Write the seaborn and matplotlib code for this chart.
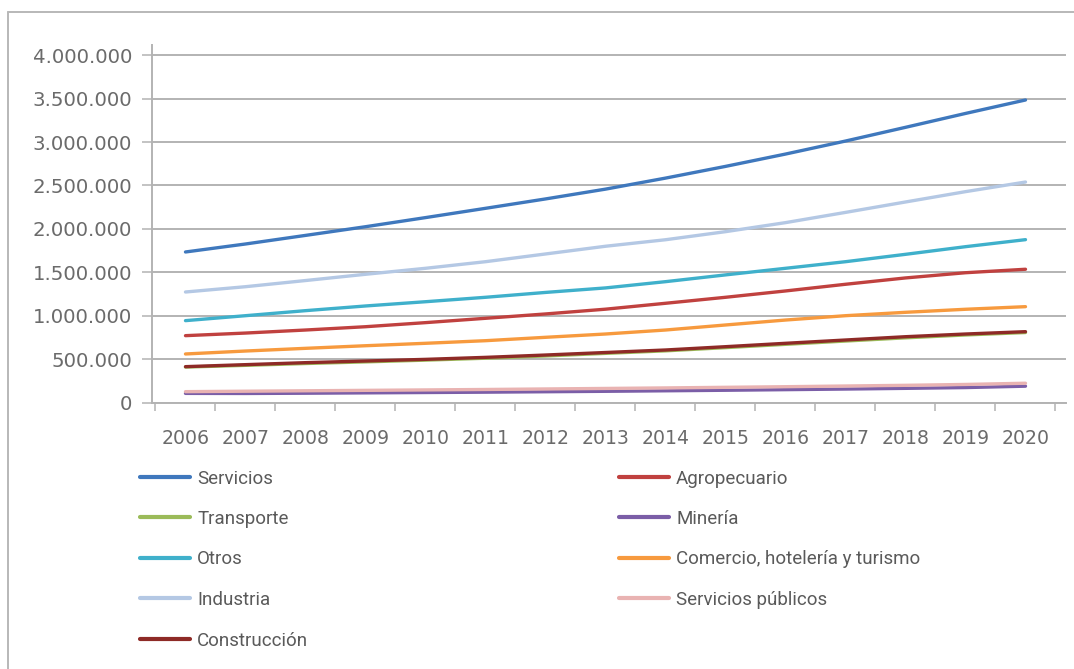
import matplotlib
matplotlib.use("Agg")
import matplotlib.pyplot as plt
from matplotlib.ticker import FuncFormatter, FixedLocator
from matplotlib.lines import Line2D
import numpy as np
import pandas as pd
import seaborn as sns

# ---- data ---------------------------------------------------------------
years = [2006, 2007, 2008, 2009, 2010, 2011, 2012, 2013,
         2014, 2015, 2016, 2017, 2018, 2019, 2020]

servicios = [1734000, 1826000, 1925000, 2025000, 2130000, 2237000, 2345000, 2458000,
             2585000, 2720000, 2862000, 3012000, 3170000, 3330000, 3485000]
agropecuario = [770000, 800000, 835000, 873000, 920000, 970000, 1020000, 1075000,
                1143000, 1212000, 1285000, 1362000, 1435000, 1495000, 1535000]
transporte = [408000, 428000, 449000, 468000, 488000, 510000, 536000, 566000,
              595000, 632000, 670000, 708000, 745000, 778000, 806000]
mineria = [105000, 104000, 107000, 111000, 115000, 119000, 124000, 129000,
           135000, 141000, 148000, 155000, 163000, 172000, 188000]
otros = [943000, 1000000, 1058000, 1112000, 1161000, 1212000, 1268000, 1320000,
         1392000, 1470000, 1546000, 1622000, 1707000, 1795000, 1876000]
comercio = [559000, 593000, 624000, 654000, 682000, 712000, 751000, 789000,
            835000, 893000, 950000, 1000000, 1039000, 1074000, 1104000]
industria = [1273000, 1334000, 1405000, 1477000, 1546000, 1622000, 1711000, 1800000,
             1875000, 1968000, 2072000, 2190000, 2310000, 2429000, 2540000]
servicios_publicos = [125000, 130000, 135000, 140000, 145000, 150000, 156000, 162000,
                      168000, 175000, 182000, 190000, 198000, 208000, 222000]
construccion = [413000, 436000, 459000, 478000, 497000, 520000, 547000, 576000,
                605000, 643000, 682000, 720000, 758000, 789000, 816000]

series_names = ["Servicios", "Agropecuario", "Transporte", "Minería", "Otros",
                "Comercio, hotelería y turismo", "Industria", "Servicios públicos",
                "Construcción"]
series_values = [servicios, agropecuario, transporte, mineria, otros,
                 comercio, industria, servicios_publicos, construccion]
series_colors = ["#3f78bd", "#c0413f", "#9bbb59", "#7b5ea7", "#3fb0cb",
                 "#f79a3e", "#b4c8e4", "#e9b3b2", "#8e2a26"]

y_ticks = [0, 500000, 1000000, 1500000, 2000000, 2500000, 3000000, 3500000, 4000000]

# ---- long table for seaborn --------------------------------------------
rows = []
for name, vals in zip(series_names, series_values):
    for i, (yr, v) in enumerate(zip(years, vals)):
        rows.append({"pos": i, "year": yr, "serie": name, "valor": v})
df = pd.DataFrame(rows)

palette = dict(zip(series_names, series_colors))

sns.set_theme(style="white")
plt.rcParams["font.family"] = ["DejaVu Sans"]

fig = plt.figure(figsize=(10.74, 6.69), dpi=100)
W, H = 1074, 669

# axes placement in pixels
left_px, right_px, top_px, bottom_px = 152, 1066, 45.3, 402.5
ax = fig.add_axes([left_px / W, 1 - bottom_px / H,
                   (right_px - left_px) / W, (bottom_px - top_px) / H])

sns.lineplot(data=df, x="pos", y="valor", hue="serie", hue_order=series_names,
             palette=palette, linewidth=2.4, ax=ax, legend=False,
             solid_capstyle="round")

grid_c = "#b3b3b3"
axis_text_c = "#6b6b6b"

ax.set_xlim(-0.558, 14.675)
ax.set_ylim(0, 4115000)

# y axis: gridlines with small outward ticks
ax.yaxis.set_major_locator(FixedLocator(y_ticks))
ax.yaxis.set_major_formatter(FuncFormatter(lambda v, p: f"{v:,.0f}".replace(",", ".")))
ax.grid(axis="y", color=grid_c, linewidth=1.4)
ax.grid(axis="x", visible=False)
ax.tick_params(axis="y", which="major", length=7.2, width=1.1, color=grid_c,
               direction="out", pad=7, labelsize=14.2, labelcolor=axis_text_c, left=True)

# x axis: year labels centred in categories, tick marks on boundaries
ax.set_xticks(range(len(years)))
ax.set_xticklabels([str(y) for y in years])
ax.set_xticks(np.arange(-0.5, len(years), 1.0), minor=True)
ax.tick_params(axis="x", which="major", length=0, pad=19, labelsize=13.6,
               labelcolor=axis_text_c)
ax.tick_params(axis="x", which="minor", length=6, width=1.1, color=grid_c,
               direction="out", bottom=True)
ax.set_xlabel("")
ax.set_ylabel("")

for side in ["top", "right"]:
    ax.spines[side].set_visible(False)
for side in ["left", "bottom"]:
    ax.spines[side].set_color(grid_c)
    ax.spines[side].set_linewidth(1.4)

# ---- legend in two columns ------------------------------------------------
def handles_for(names):
    return [Line2D([0], [0], color=palette[n], linewidth=3.0, solid_capstyle="round")
            for n in names]

left_names = ["Servicios", "Transporte", "Otros", "Industria", "Construcción"]
right_names = ["Agropecuario", "Minería", "Comercio, hotelería y turismo",
               "Servicios públicos"]

leg_kw = dict(frameon=False, prop={"family": "Roboto", "size": 13.5},
              labelcolor="#5a5a5a", handlelength=2.65, handletextpad=0.4,
              labelspacing=1.2, borderaxespad=0, borderpad=0)

leg1 = fig.legend(handles_for(left_names), left_names, loc="upper left",
                  bbox_to_anchor=(140 / W, 1 - 469.5 / H), **leg_kw)
leg2 = fig.legend(handles_for(right_names), right_names, loc="upper left",
                  bbox_to_anchor=(619 / W, 1 - 469.5 / H), **leg_kw)

# ---- outer frame (top and left edges) -----------------------------------
frame_c = "#b8b8b8"
fig.add_artist(Line2D([8 / W, 1.0], [1 - 12 / H, 1 - 12 / H], color=frame_c,
                      linewidth=1.4, transform=fig.transFigure))
fig.add_artist(Line2D([8 / W, 8 / W], [1 - 12 / H, 0.0], color=frame_c,
                      linewidth=1.4, transform=fig.transFigure))

fig.savefig("out.png", dpi=100, facecolor="white")
